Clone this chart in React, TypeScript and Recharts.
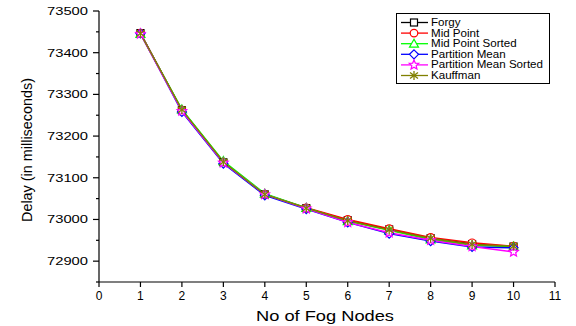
import { LineChart, Line, XAxis, YAxis, Legend } from 'recharts';

const nodes = [1, 2, 3, 4, 5, 6, 7, 8, 9, 10];
const forgy = [73447, 73262, 73137, 73060, 73027, 72998, 72976, 72955, 72941, 72935];
const midPoint = [73447, 73262, 73137, 73060, 73028, 73000, 72978, 72957, 72944, 72936];
const midPointSorted = [73445, 73264, 73140, 73062, 73028, 72996, 72974, 72952, 72938, 72935];
const partitionMean = [73446, 73258, 73134, 73058, 73025, 72993, 72966, 72948, 72934, 72932];
const partitionMeanSorted = [73445, 73260, 73136, 73060, 73026, 72993, 72968, 72950, 72935, 72922];
const kauffman = [73446, 73263, 73138, 73060, 73027, 72997, 72975, 72955, 72940, 72936];

const xTicks = [0, 1, 2, 3, 4, 5, 6, 7, 8, 9, 10, 11];
const yTicks = [72850, 72900, 72950, 73000, 73050, 73100, 73150, 73200, 73250, 73300, 73350, 73400, 73450, 73500];

const FONT = 'Arial, "Liberation Sans", sans-serif';

const SERIES = [
  { key: 'forgy', name: 'Forgy', color: '#000000', shape: 'square' },
  { key: 'midPoint', name: 'Mid Point', color: '#ff0000', shape: 'circle' },
  { key: 'midPointSorted', name: 'Mid Point Sorted', color: '#00ff00', shape: 'triangle' },
  { key: 'partitionMean', name: 'Partition Mean', color: '#0000ff', shape: 'diamond' },
  { key: 'partitionMeanSorted', name: 'Partition Mean Sorted', color: '#ff00ff', shape: 'star' },
  { key: 'kauffman', name: 'Kauffman', color: '#808000', shape: 'asterisk' },
];

const data = nodes.map((n, i) => ({
  x: n,
  forgy: forgy[i],
  midPoint: midPoint[i],
  midPointSorted: midPointSorted[i],
  partitionMean: partitionMean[i],
  partitionMeanSorted: partitionMeanSorted[i],
  kauffman: kauffman[i],
}));

const starPoints = (cx: number, cy: number, r: number) => {
  const pts: string[] = [];
  for (let k = 0; k < 10; k++) {
    const rr = k % 2 === 0 ? r : r * 0.45;
    const a = -Math.PI / 2 + (k * Math.PI) / 5;
    pts.push(`${cx + rr * Math.cos(a)},${cy + rr * Math.sin(a)}`);
  }
  return pts.join(' ');
};

const Marker = ({ cx, cy, shape, color }: any) => {
  const s = { stroke: color, strokeWidth: 1.2, fill: '#fff' };
  switch (shape) {
    case 'square':
      return <rect x={cx - 3.5} y={cy - 3.5} width={7} height={7} {...s} />;
    case 'circle':
      return <circle cx={cx} cy={cy} r={3.8} {...s} />;
    case 'triangle':
      return <polygon points={`${cx},${cy - 4.5} ${cx - 4.5},${cy + 3.5} ${cx + 4.5},${cy + 3.5}`} {...s} />;
    case 'diamond':
      return <polygon points={`${cx},${cy - 4.5} ${cx + 4.5},${cy} ${cx},${cy + 4.5} ${cx - 4.5},${cy}`} {...s} />;
    case 'star':
      return <polygon points={starPoints(cx, cy, 5)} {...s} />;
    default:
      return (
        <g stroke={color} strokeWidth={1.3}>
          <line x1={cx} y1={cy - 4.5} x2={cx} y2={cy + 4.5} />
          <line x1={cx - 4} y1={cy - 3} x2={cx + 4} y2={cy + 3} />
          <line x1={cx - 4} y1={cy + 3} x2={cx + 4} y2={cy - 3} />
        </g>
      );
  }
};

const YTick = ({ x, y, payload }: any) => {
  const major = payload.value % 100 === 0;
  return (
    <g>
      <line x1={x} x2={x - (major ? 6 : 3)} y1={y} y2={y} stroke="#000" strokeWidth={1.2} />
      {major && (
        <text x={x - 11} y={y} dy={4} textAnchor="end" fontSize={11} fontFamily={FONT} fill="#000"
          textLength={41} lengthAdjust="spacingAndGlyphs">
          {payload.value}
        </text>
      )}
    </g>
  );
};

const XTick = ({ x, y, payload }: any) => (
  <g>
    <line x1={x} x2={x} y1={y} y2={y + 5} stroke="#000" strokeWidth={1.2} />
    <text x={x} y={y + 18} textAnchor="middle" fontSize={12} fontFamily={FONT} fill="#000">
      {payload.value}
    </text>
  </g>
);

const LegendBox = () => (
  <svg width={154} height={71}>
    <rect x={0.5} y={0.5} width={153} height={70} fill="#fff" stroke="#000" strokeWidth={1} />
    {SERIES.map((s, i) => {
      const cy = 9.5 + i * 10.6;
      return (
        <g key={s.key}>
          <line x1={5} x2={32} y1={cy} y2={cy} stroke={s.color} strokeWidth={1.3} />
          <Marker cx={18} cy={cy} shape={s.shape} color={s.color} />
          <text x={35} y={cy + 3.5} fontSize={10} fontFamily={FONT} fill="#000"
            transform={`translate(35 0) scale(1.16 1) translate(-35 0)`}>
            {s.name}
          </text>
        </g>
      );
    })}
  </svg>
);

export default function App() {
  return (
    <div style={{ position: 'absolute', left: 0, top: 0, width: 576, height: 326, background: '#fff' }}>
      <LineChart width={576} height={326} data={data} margin={{ top: 11, right: 21, bottom: 0, left: 0 }}>
        <XAxis
          dataKey="x"
          type="number"
          domain={[0, 11]}
          ticks={xTicks}
          interval={0}
          height={44}
          tickSize={0}
          tickMargin={0}
          tickLine={false}
          axisLine={{ stroke: '#000', strokeWidth: 1.2 }}
          tick={<XTick />}
          label={() => (
            <text x={325} y={321} textAnchor="middle" fontSize={15} fontFamily={FONT} fill="#000"
              textLength={138} lengthAdjust="spacingAndGlyphs">
              No of Fog Nodes
            </text>
          )}
        />
        <YAxis
          type="number"
          domain={[72850, 73500]}
          ticks={yTicks}
          interval={0}
          width={99}
          allowDataOverflow
          tickSize={0}
          tickMargin={0}
          tickLine={false}
          axisLine={{ stroke: '#000', strokeWidth: 1.2 }}
          tick={<YTick />}
          label={() => (
            <text transform="translate(32 150) rotate(-90)" textAnchor="middle" fontSize={15} fontFamily={FONT} fill="#000"
              textLength={144} lengthAdjust="spacingAndGlyphs">
              Delay (in milliseconds)
            </text>
          )}
        />
        <Legend
          layout="vertical"
          align="center"
          verticalAlign="middle"
          content={() => <LegendBox />}
          wrapperStyle={{ position: 'absolute', left: 396, top: 13, width: 154, height: 71 }}
        />
        {SERIES.map((s) => (
          <Line
            key={s.key}
            dataKey={s.key}
            name={s.name}
            stroke={s.color}
            strokeWidth={1.4}
            isAnimationActive={false}
            dot={(p: any) => <Marker key={`${s.key}-${p.index}`} cx={p.cx} cy={p.cy} shape={s.shape} color={s.color} />}
          />
        ))}
      </LineChart>
    </div>
  );
}
